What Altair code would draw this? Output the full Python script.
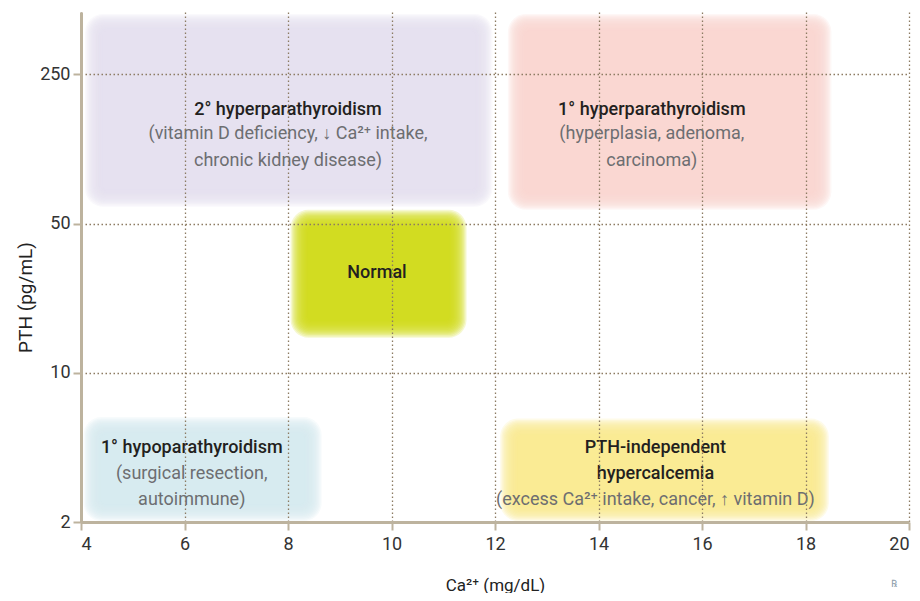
import altair as alt
import pandas as pd

# ---------------- data ----------------
region_names = ["2° hyperparathyroidism", "1° hyperparathyroidism", "Normal",
                "1° hypoparathyroidism", "PTH-independent hypercalcemia"]
region_ca_low = [4.08, 12.25, 8.05, 4.05, 12.1]
region_ca_high = [11.95, 18.5, 11.45, 8.65, 18.45]
region_pth_high = [480, 480, 58, 6.2, 6.1]
region_pth_low = [60, 58, 14.6, 2.02, 2.02]
region_colors = ["#e8e3f2", "#fbd6d2", "#d2dc18", "#d6ebee", "#fbed90"]

head_text = ["2° hyperparathyroidism", "1° hyperparathyroidism", "Normal",
             "1° hypoparathyroidism", "PTH-independent", "hypercalcemia"]
head_ca = [8.0, 15.03, 9.72, 6.14, 15.1, 15.1]
head_pth = [171, 171, 29.4, 4.45, 4.45, 3.36]

sub_text = ["(vitamin D deficiency, ↓ Ca²⁺ intake,", "chronic kidney disease)",
            "(hyperplasia, adenoma,", "carcinoma)",
            "(surgical resection,", "autoimmune)",
            "(excess Ca²⁺ intake, cancer, ↑ vitamin D)"]
sub_ca = [8.0, 8.0, 15.03, 15.03, 6.14, 6.14, 15.1]
sub_pth = [131, 98.7, 131, 98.7, 3.36, 2.54, 2.54]

x_ticks = [4, 6, 8, 10, 12, 14, 16, 18, 20]
y_ticks = [2, 10, 50, 250]

regions = pd.DataFrame({"name": region_names, "x1": region_ca_low, "x2": region_ca_high,
                        "y1": region_pth_high, "y2": region_pth_low})
heads = pd.DataFrame({"t": head_text, "x": head_ca, "y": head_pth})
subs = pd.DataFrame({"t": sub_text, "x": sub_ca, "y": sub_pth})

FONT = "Roboto"
AXIS_COL = "#bdb39e"
GRID_COL = "#8c7b62"

xscale = alt.Scale(domain=[4, 20], nice=False, zero=False)
yscale = alt.Scale(type="log", domain=[2, 490], nice=False)

xaxis = alt.Axis(values=x_ticks, title="Ca²⁺ (mg/dL)", grid=True, gridDash=[1.5, 2.5],
                 gridColor=GRID_COL, gridWidth=1.3, domainColor=AXIS_COL, domainWidth=3,
                 tickColor=AXIS_COL, tickWidth=2, tickSize=8, labelPadding=5,
                 labelFontSize=18, labelColor="#333333", labelFont=FONT,
                 titleFont=FONT, titleFontSize=17, titleFontWeight="normal",
                 titleColor="#222222", titleX=414, titleY=63, titleBaseline="middle",
                 zindex=1)
yaxis = alt.Axis(values=y_ticks, title="PTH (pg/mL)", grid=True, gridDash=[1.5, 2.5],
                 gridColor=GRID_COL, gridWidth=1.3, domainColor=AXIS_COL, domainWidth=3,
                 tickColor=AXIS_COL, tickWidth=2, tickSize=8, labelPadding=3,
                 labelFontSize=18, labelColor="#333333", labelFont=FONT,
                 titleFont=FONT, titleFontSize=19, titleFontWeight="normal",
                 titleColor="#222222", titleX=-56, titleY=285, titleAngle=270,
                 titleAlign="center", titleBaseline="middle", zindex=1)

color = alt.Color("name:N", scale=alt.Scale(domain=region_names, range=region_colors),
                  legend=None)

layers = []
n_layers = 14
step = 1.3
for i in range(n_layers):
    k = i * step
    layer = alt.Chart(regions).mark_rect(
        opacity=0.2, cornerRadius=max(3, 18 - i),
        xOffset=k, x2Offset=-k, yOffset=k, y2Offset=-k
    ).encode(
        x=alt.X("x1:Q", scale=xscale, axis=xaxis),
        x2="x2:Q",
        y=alt.Y("y1:Q", scale=yscale, axis=yaxis),
        y2="y2:Q",
        color=color,
    )
    layers.append(layer)

head_layer = alt.Chart(heads).mark_text(
    font=FONT, fontSize=18, fontWeight=500, color="#231f20", baseline="middle"
).encode(x=alt.X("x:Q", scale=xscale, axis=xaxis),
         y=alt.Y("y:Q", scale=yscale, axis=yaxis), text="t:N")

sub_layer = alt.Chart(subs).mark_text(
    font=FONT, fontSize=18, color="#6d6e71", baseline="middle"
).encode(x=alt.X("x:Q", scale=xscale, axis=xaxis),
         y=alt.Y("y:Q", scale=yscale, axis=yaxis), text="t:N")

logo = alt.Chart(pd.DataFrame({"t": ["℞"]})).mark_text(
    fontSize=10, color="#8a9aa8", align="center", baseline="middle"
).encode(x=alt.value(813), y=alt.value(572), text="t:N")

chart = alt.layer(*layers, head_layer, sub_layer, logo).properties(
    width=828, height=510,
    autosize=alt.AutoSizeParams(type="none"),
    padding={"left": 73, "top": 4, "right": 3, "bottom": 71},
).configure_view(strokeWidth=0)

chart.save("out.html", embed_options={"renderer": "svg", "actions": False})
